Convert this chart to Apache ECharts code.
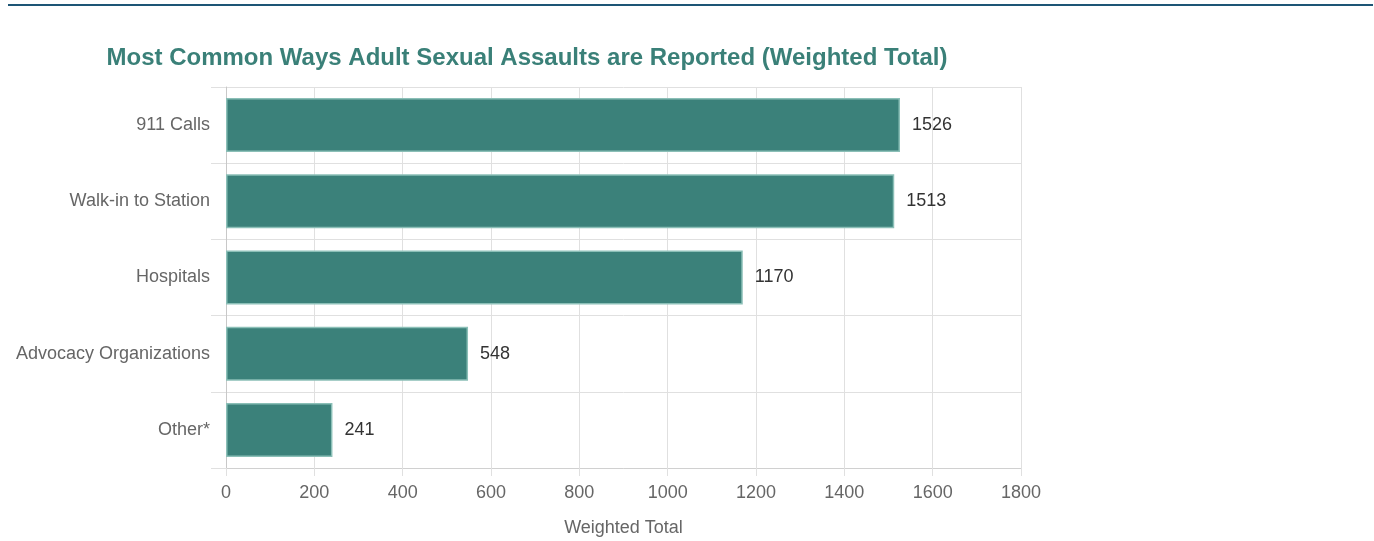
<!DOCTYPE html>
<html>
<head>
<meta charset="utf-8">
<script src="https://cdn.jsdelivr.net/npm/echarts@6/dist/echarts.min.js"></script>
<style>
html,body{margin:0;padding:0;background:#fff;}
#topline{position:absolute;left:8px;top:4px;width:1365px;height:2px;background:#1d5575;}
#chart{position:absolute;left:0;top:0;width:1374px;height:541px;}
</style>
</head>
<body>
<div id="topline"></div>
<div id="chart"></div>
<script>
const categories = ["911 Calls", "Walk-in to Station", "Hospitals", "Advocacy Organizations", "Other*"];
const values = [1526, 1513, 1170, 548, 241];
const titleText = "Most Common Ways Adult Sexual Assaults are Reported (Weighted Total)";
const xAxisName = "Weighted Total";

const chart = echarts.init(document.getElementById('chart'), null, {renderer: 'canvas'});
const font = "'Liberation Sans', Arial, sans-serif";
chart.setOption({
  animation: false,
  title: {
    text: titleText,
    left: 522,
    top: 41,
    textAlign: 'center',
    textStyle: {color: '#3a8078', fontSize: 24, fontWeight: 'bold', fontFamily: font}
  },
  grid: {left: 226, right: 353, top: 87, bottom: 73, containLabel: false, outerBoundsMode: 'none'},
  xAxis: {
    type: 'value',
    min: 0, max: 1800, interval: 200,
    name: xAxisName,
    nameLocation: 'middle',
    nameGap: 51,
    nameTextStyle: {color: '#666', fontSize: 18, fontFamily: font},
    axisLine: {show: true, lineStyle: {color: '#d0d0d0', width: 1}},
    axisTick: {show: true, length: 8, lineStyle: {color: '#e0e0e0'}},
    axisLabel: {color: '#666', fontSize: 18, fontFamily: font, margin: 16, formatter: v => String(v)},
    splitLine: {show: true, lineStyle: {color: '#e0e0e0', width: 1}}
  },
  yAxis: {
    type: 'category',
    data: categories,
    inverse: true,
    axisLine: {show: true, lineStyle: {color: '#c8c8c8', width: 1}},
    axisTick: {show: true, length: 15, lineStyle: {color: '#e0e0e0'}},
    axisLabel: {color: '#666', fontSize: 18, fontFamily: font, margin: 16},
    splitLine: {show: true, lineStyle: {color: '#e0e0e0', width: 1}}
  },
  series: [{
    type: 'bar',
    data: values,
    barWidth: 54,
    itemStyle: {color: '#3b817a', borderColor: '#8bbfb7', borderWidth: 1.5},
    label: {show: true, position: 'right', distance: 12, color: '#333', fontSize: 18, fontFamily: font}
  }]
});
</script>
</body>
</html>
